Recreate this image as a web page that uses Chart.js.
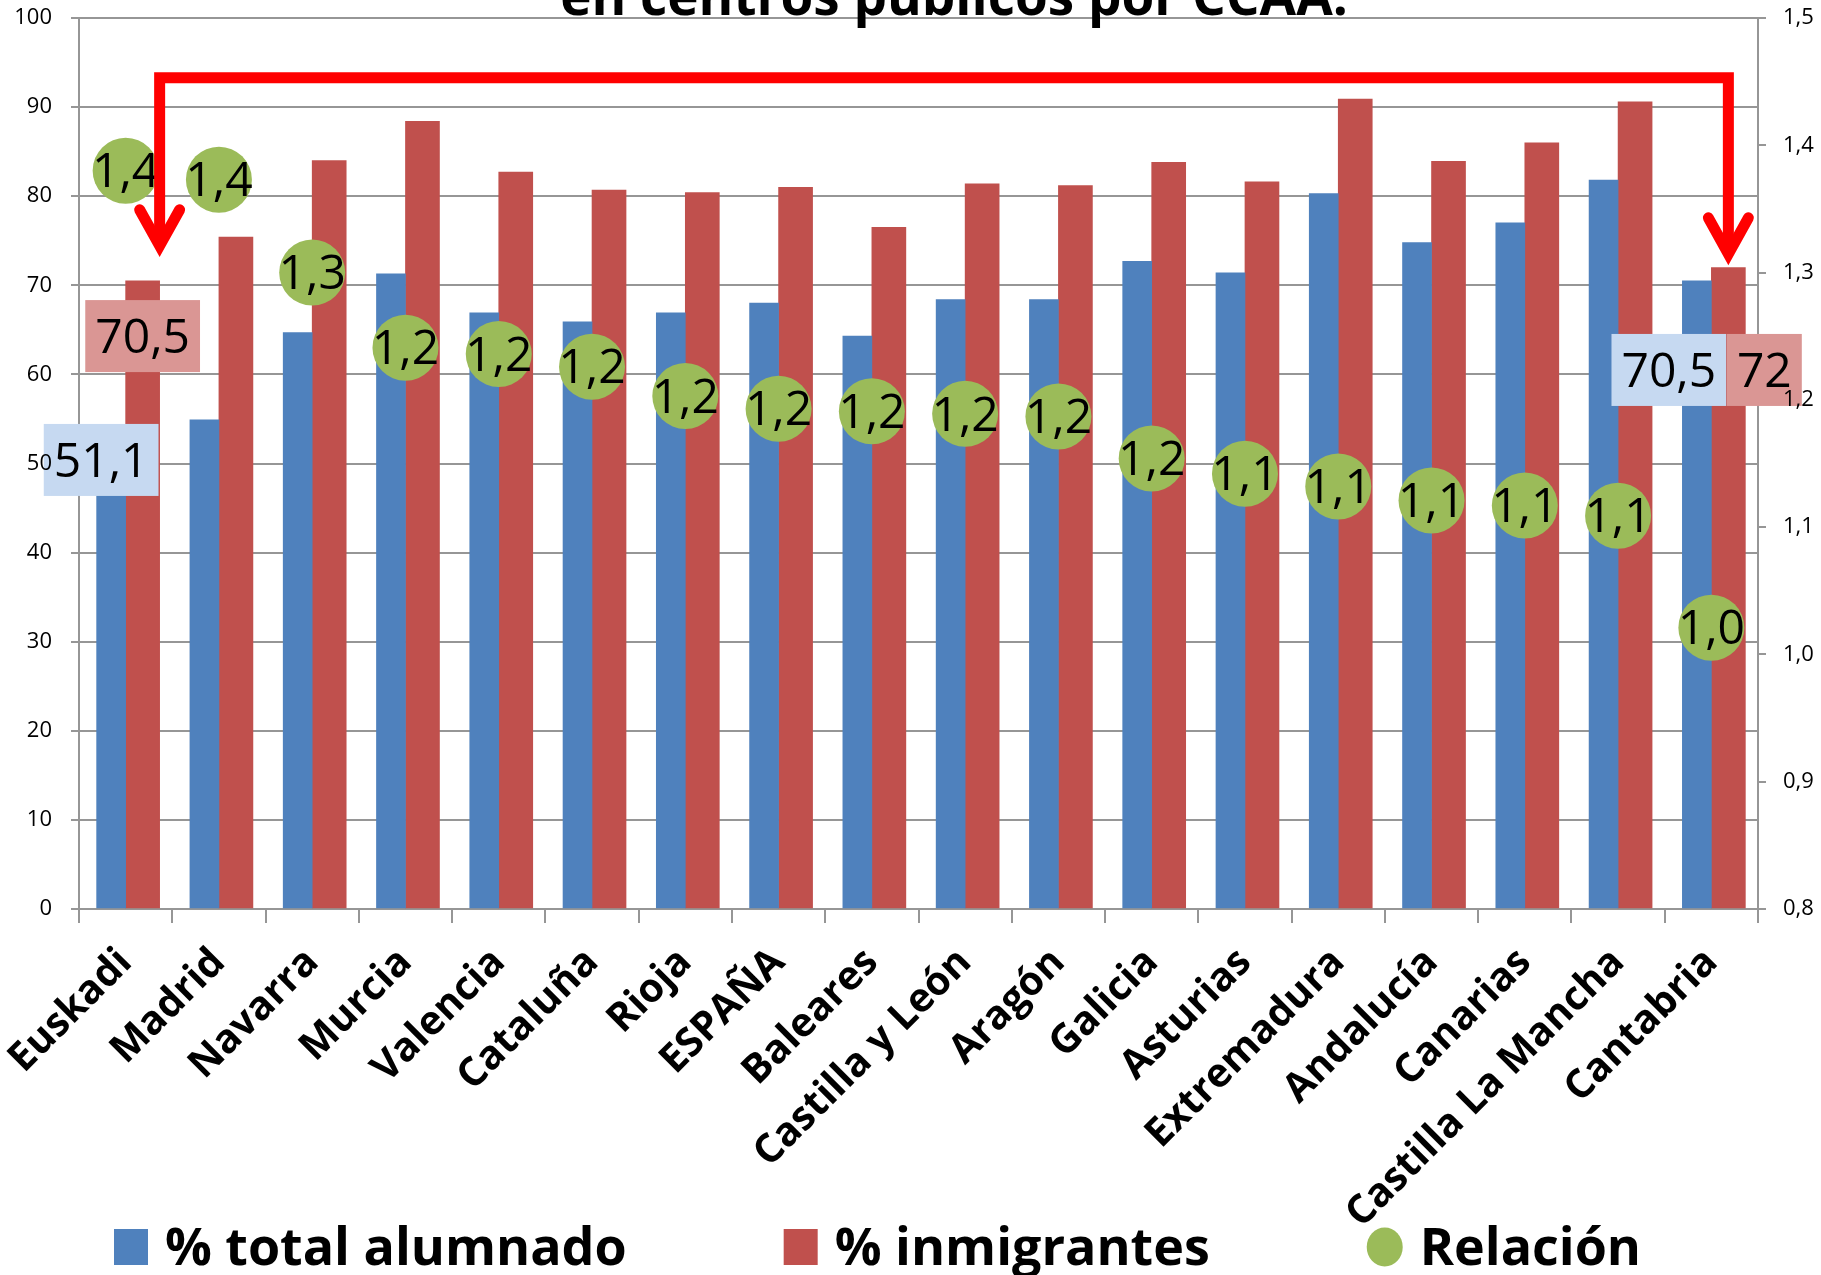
<!DOCTYPE html>
<html lang="es">
<head>
<meta charset="utf-8">
<title>Alumnado en centros públicos por CCAA</title>
<script src="https://cdn.jsdelivr.net/npm/chart.js@4.4.0/dist/chart.umd.min.js"></script>
<style>
  html, body { margin: 0; padding: 0; background: #fff; }
  #wrap { width: 1821px; height: 1275px; overflow: hidden; }
</style>
</head>
<body>
<div id="wrap"><canvas id="grafico" width="1821" height="1275"></canvas></div>
<script>
// Datos
const comunidades = ['Euskadi', 'Madrid', 'Navarra', 'Murcia', 'Valencia', 'Cataluña', 'Rioja', 'ESPAÑA',
  'Baleares', 'Castilla y León', 'Aragón', 'Galicia', 'Asturias', 'Extremadura', 'Andalucía', 'Canarias',
  'Castilla La Mancha', 'Cantabria'];
const totalAlumnado = [51.1, 54.9, 64.7, 71.3, 66.9, 65.9, 66.9, 68.0, 64.3, 68.4, 68.4, 72.7, 71.4, 80.3, 74.8, 77.0, 81.8, 70.5];
const inmigrantes = [70.5, 75.4, 84.0, 88.4, 82.7, 80.7, 80.4, 81.0, 76.5, 81.4, 81.2, 83.8, 81.6, 90.9, 83.9, 86.0, 90.6, 72.0];
const relacion = [1.38, 1.373, 1.30, 1.241, 1.236, 1.226, 1.203, 1.193, 1.191, 1.189, 1.187, 1.154, 1.142, 1.132, 1.121, 1.117, 1.109, 1.021];

// ejes: izquierda en %, derecha para la relación
const ejeIzq = { min: 0, max: 100, paso: 10 };
const ejeDer = { min: 0.8, max: 1.5, paso: 0.1 };

const titulo = 'en centros públicos por CCAA.';

const AZUL = '#4F81BD', ROJO = '#C0504D', VERDE = '#9BBB59';
const FUENTE = "'Open Sans', 'Noto Sans', sans-serif";
const GRIS = '#969696';

// cajas de etiqueta (serie, índice, desplazamiento x en px, centro y en valor del eje izq.)
const etiquetasCaja = [
  { serie: 1, i: 0, dx: 0, y: 64.3, fondo: '#DA9694' },
  { serie: 0, i: 0, dx: -10, y: 50.4, fondo: '#C6D9F1' },
  { serie: 0, i: 17, dx: -28, y: 60.5, fondo: '#C6D9F1' },
  { serie: 1, i: 17, dx: 36, y: 60.5, fondo: '#DA9694' }
];

// flecha roja que une Euskadi con Cantabria (niveles en valor del eje izq.)
const flecha = { nivel: 93.3, puntaIzq: 73.2, puntaDer: 72.3 };

function coma(v, dec) {
  return (dec == null ? String(v) : v.toFixed(dec)).replace('.', ',');
}

const anotaciones = {
  id: 'anotaciones',
  afterDatasetsDraw(chart) {
    const ctx = chart.ctx;
    const y = chart.scales.y;
    ctx.save();
    ctx.textAlign = 'center';
    ctx.textBaseline = 'middle';
    ctx.font = `48px ${FUENTE}`;

    // etiquetas de la relación encima de cada círculo
    ctx.fillStyle = '#000';
    chart.getDatasetMeta(2).data.forEach((p, i) => {
      ctx.fillText(coma(relacion[i], 1), p.x, p.y + 3);
    });

    // cajas con los valores de Euskadi y Cantabria
    etiquetasCaja.forEach(e => {
      const barra = chart.getDatasetMeta(e.serie).data[e.i];
      const texto = coma(chart.data.datasets[e.serie].data[e.i]);
      const w = ctx.measureText(texto).width + 20, h = 72;
      const cx = barra.x + e.dx, cy = y.getPixelForValue(e.y);
      ctx.fillStyle = e.fondo;
      ctx.fillRect(cx - w / 2, cy - h / 2, w, h);
      ctx.fillStyle = '#000';
      ctx.fillText(texto, cx, cy + 3);
    });

    // flecha
    const rojas = chart.getDatasetMeta(1).data;
    const xIzq = rojas[0].x + rojas[0].width / 2;
    const xDer = rojas[rojas.length - 1].x;
    const yH = y.getPixelForValue(flecha.nivel);
    const vIzq = y.getPixelForValue(flecha.puntaIzq) - 11;
    const vDer = y.getPixelForValue(flecha.puntaDer) - 11;
    ctx.strokeStyle = '#FF0000';
    ctx.lineWidth = 11;
    ctx.lineJoin = 'miter';
    ctx.lineCap = 'butt';
    ctx.beginPath();
    ctx.moveTo(xIzq, vIzq);
    ctx.lineTo(xIzq, yH);
    ctx.lineTo(xDer, yH);
    ctx.lineTo(xDer, vDer);
    ctx.stroke();
    ctx.lineCap = 'round';
    ctx.miterLimit = 10;
    [[xIzq, vIzq], [xDer, vDer]].forEach(([px, py]) => {
      ctx.beginPath();
      ctx.moveTo(px - 20, py - 36);
      ctx.lineTo(px, py);
      ctx.lineTo(px + 20, py - 36);
      ctx.stroke();
    });
    ctx.restore();
  },
  afterDraw(chart) {
    const ctx = chart.ctx;
    ctx.save();
    // título (solo asoma la segunda línea)
    ctx.fillStyle = '#000';
    ctx.font = `bold 53px ${FUENTE}`;
    ctx.textAlign = 'center';
    ctx.textBaseline = 'alphabetic';
    ctx.fillText(titulo, 954, 15);

    // leyenda inferior
    ctx.font = `bold 52px ${FUENTE}`;
    ctx.textAlign = 'left';
    let x = 114;
    chart.data.datasets.forEach(ds => {
      ctx.fillStyle = ds.type === 'line' ? ds.pointBackgroundColor : ds.backgroundColor;
      if (ds.type === 'line') {
        ctx.beginPath();
        ctx.ellipse(x + 18, 1247, 18, 19.5, 0, 0, Math.PI * 2);
        ctx.fill();
        x += 36;
      } else {
        ctx.fillRect(x, 1229, 34, 36);
        x += 34;
      }
      x += 17;
      ctx.fillStyle = '#000';
      ctx.fillText(ds.label, x, 1265);
      x += ctx.measureText(ds.label).width + 157;
    });
    ctx.restore();
  }
};

new Chart(document.getElementById('grafico'), {
  type: 'bar',
  data: {
    labels: comunidades,
    datasets: [
      { label: '% total alumnado', data: totalAlumnado, backgroundColor: AZUL, barThickness: 29, yAxisID: 'y', order: 1 },
      { label: '% inmigrantes', data: inmigrantes, backgroundColor: ROJO, barThickness: 34, yAxisID: 'y', order: 1 },
      {
        label: 'Relación', type: 'line', data: relacion, yAxisID: 'y1', order: 0,
        showLine: false, pointRadius: 33, pointHoverRadius: 33, pointBorderWidth: 0,
        pointBackgroundColor: VERDE, backgroundColor: VERDE, borderColor: VERDE, clip: false
      }
    ]
  },
  options: {
    responsive: false,
    animation: false,
    devicePixelRatio: 1,
    layout: { autoPadding: false, padding: { top: 18, left: 0, right: 0, bottom: 0 } },
    plugins: { legend: { display: false }, title: { display: false }, tooltip: { enabled: false } },
    scales: {
      x: {
        grid: { drawOnChartArea: false, drawTicks: true, tickLength: 14, color: GRIS, lineWidth: 2, offset: true },
        border: { color: GRIS, width: 2 },
        ticks: {
          autoSkip: false, maxRotation: 45, minRotation: 45, padding: 16, color: '#000',
          font: { family: FUENTE, size: 40, weight: 'bold' }
        },
        afterFit(s) { s.height = 1275 - 909; s.paddingLeft = 0; s.paddingRight = 0; }
      },
      y: {
        position: 'left', min: ejeIzq.min, max: ejeIzq.max,
        grid: { color: GRIS, lineWidth: 2, tickLength: 8 },
        border: { color: GRIS, width: 2 },
        ticks: { stepSize: ejeIzq.paso, padding: 19, color: '#000', z: 1, font: { family: FUENTE, size: 22 } },
        afterFit(s) { s.width = 79; s.paddingTop = 0; s.paddingBottom = 0; }
      },
      y1: {
        position: 'right', min: ejeDer.min, max: ejeDer.max,
        grid: { drawOnChartArea: false, color: GRIS, lineWidth: 2, tickLength: 8 },
        border: { color: GRIS, width: 2 },
        ticks: {
          stepSize: ejeDer.paso, padding: 17, color: '#000', z: 1, font: { family: FUENTE, size: 22 },
          callback: v => coma(v, 1)
        },
        afterFit(s) { s.width = 1821 - 1758; s.paddingTop = 0; s.paddingBottom = 0; }
      }
    }
  },
  plugins: [anotaciones]
});
</script>
</body>
</html>
